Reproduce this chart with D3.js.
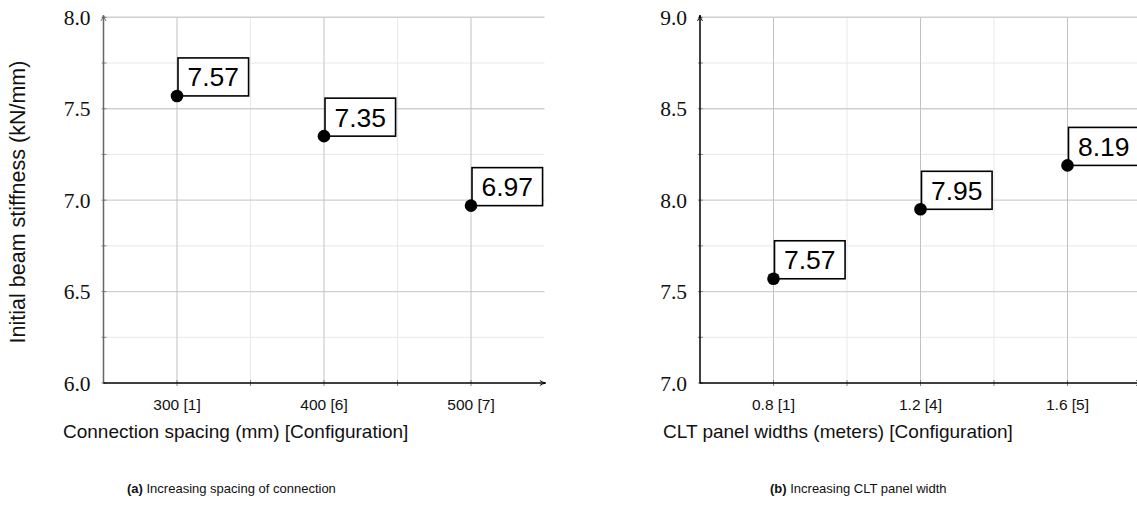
<!DOCTYPE html>
<html>
<head>
<meta charset="utf-8">
<script src="https://cdn.jsdelivr.net/npm/d3@7"></script>
<style>
  html, body { margin: 0; padding: 0; background: #fff; }
  svg { display: block; }
</style>
</head>
<body>
<svg id="chart" width="1137" height="515"></svg>
<script>
// ---- Data ----
const leftCategories = ["300 [1]", "400 [6]", "500 [7]"];
const leftX = [300, 400, 500];
const leftValues = [7.57, 7.35, 6.97];
const leftYTicks = [6.0, 6.5, 7.0, 7.5, 8.0];
const leftXTitle = "Connection spacing (mm) [Configuration]";
const leftCaptionBold = "(a)";
const leftCaption = " Increasing spacing of connection";

const rightCategories = ["0.8 [1]", "1.2 [4]", "1.6 [5]"];
const rightX = [0.8, 1.2, 1.6];
const rightValues = [7.57, 7.95, 8.19];
const rightYTicks = [7.0, 7.5, 8.0, 8.5, 9.0];
const rightXTitle = "CLT panel widths (meters) [Configuration]";
const rightCaptionBold = "(b)";
const rightCaption = " Increasing CLT panel width";

const yTitle = "Initial beam stiffness (kN/mm)";

const SERIF = "'Liberation Serif', serif";
const SANS = "'Liberation Sans', Arial, sans-serif";

const svg = d3.select("#chart");

const defs = svg.append("defs");
function marker(id, color) {
  defs.append("marker")
    .attr("id", id).attr("viewBox", "0 0 10 10")
    .attr("refX", 9).attr("refY", 5)
    .attr("markerWidth", 7).attr("markerHeight", 7)
    .attr("markerUnits", "userSpaceOnUse")
    .attr("orient", "auto")
    .append("path")
    .attr("d", "M1,1.5 Q5,4.2 9,5 Q5,5.8 1,8.5")
    .attr("fill", "none").attr("stroke", color).attr("stroke-width", 1.4);
}
marker("arrowBlack", "#000");
marker("arrowGray", "#666");

function panel(cfg) {
  const g = svg.append("g");
  const x = d3.scaleLinear().domain(cfg.xDomain).range([cfg.left, cfg.left + 441]);
  const y = d3.scaleLinear().domain(cfg.yDomain).range([383, 17.3]);
  const xEnd = x(cfg.xDomain[1]);
  const top = y(cfg.yDomain[1]);

  // minor grid
  const yMinor = d3.range(cfg.yDomain[0] + 0.25, cfg.yDomain[1], 0.5);
  g.append("g").selectAll("line").data(yMinor).join("line")
    .attr("x1", cfg.left).attr("x2", xEnd)
    .attr("y1", d => y(d)).attr("y2", d => y(d))
    .attr("stroke", "#e8e8e8").attr("stroke-width", 1);
  g.append("g").selectAll("line").data(cfg.xMinor).join("line")
    .attr("x1", d => x(d)).attr("x2", d => x(d))
    .attr("y1", y(cfg.yDomain[0])).attr("y2", top)
    .attr("stroke", "#e8e8e8").attr("stroke-width", 1);

  // major grid
  g.append("g").selectAll("line").data(cfg.yTicks.slice(1)).join("line")
    .attr("x1", cfg.left).attr("x2", xEnd)
    .attr("y1", d => y(d)).attr("y2", d => y(d))
    .attr("stroke", "#cfcfcf").attr("stroke-width", 1.4);
  g.append("g").selectAll("line").data(cfg.xVals).join("line")
    .attr("x1", d => x(d)).attr("x2", d => x(d))
    .attr("y1", y(cfg.yDomain[0])).attr("y2", top)
    .attr("stroke", "#c2c2c2").attr("stroke-width", 1);

  // y axis ticks (small)
  const yAll = cfg.yTicks.concat(yMinor);
  g.append("g").selectAll("line").data(yAll).join("line")
    .attr("x1", cfg.left - 2).attr("x2", cfg.left + 3)
    .attr("y1", d => y(d)).attr("y2", d => y(d))
    .attr("stroke", "#888").attr("stroke-width", 1);
  // x axis ticks
  const xAll = cfg.xVals.concat(cfg.xMinor);
  g.append("g").selectAll("line").data(xAll).join("line")
    .attr("x1", d => x(d)).attr("x2", d => x(d))
    .attr("y1", 380).attr("y2", 386)
    .attr("stroke", "#888").attr("stroke-width", 1);

  // axes lines with arrows
  g.append("line")
    .attr("x1", cfg.left).attr("x2", cfg.left)
    .attr("y1", 383.5).attr("y2", top - 2)
    .attr("stroke", cfg.yAxisColor).attr("stroke-width", 1.5)
    .attr("marker-end", cfg.yAxisColor === "#000" ? "url(#arrowBlack)" : "url(#arrowGray)");
  g.append("line")
    .attr("x1", cfg.left).attr("x2", xEnd + 1)
    .attr("y1", y(cfg.yDomain[0])).attr("y2", y(cfg.yDomain[0]))
    .attr("stroke", "#000").attr("stroke-width", 1.5)
    .attr("marker-end", "url(#arrowBlack)");

  // y tick labels
  g.append("g").selectAll("text").data(cfg.yTicks).join("text")
    .style("font-family", SERIF).style("font-size", "21.5px")
    .attr("x", cfg.left - 13).attr("y", d => y(d) + 7.5)
    .attr("text-anchor", "end")
    .attr("fill", "#111")
    .text(d => d3.format(".1f")(d));

  // x tick labels
  g.append("g").selectAll("text").data(cfg.xVals).join("text")
    .style("font-family", SANS).style("font-size", "15.5px")
    .attr("x", d => x(d)).attr("y", 409.5)
    .attr("text-anchor", "middle")
    .attr("fill", "#111")
    .text((d, i) => cfg.categories[i]);

  // points and labels
  const pts = g.append("g");
  cfg.xVals.forEach((xv, i) => {
    const px = x(xv), py = y(cfg.values[i]);
    const lbl = pts.append("g");
    const t = lbl.append("text")
      .style("font-family", SANS).style("font-size", "26.5px")
      .attr("text-anchor", "middle")
      .text(d3.format(".2f")(cfg.values[i]));
    const w = t.node().getComputedTextLength() + 19;
    const h = 38;
    lbl.insert("rect", "text")
      .attr("x", px + 1).attr("y", py - h)
      .attr("width", w).attr("height", h)
      .attr("fill", "#fff").attr("stroke", "#000").attr("stroke-width", 1.6);
    t.attr("x", px + 1 + w / 2).attr("y", py - h / 2 + 9.5);
    pts.append("circle").attr("cx", px).attr("cy", py).attr("r", 6.3).attr("fill", "#000");
  });

  // x title
  g.append("text")
    .style("font-family", SANS).style("font-size", "19px")
    .attr("x", cfg.titleX).attr("y", 438)
    .attr("fill", "#111")
    .text(cfg.xTitle);

  // caption
  const cap = g.append("text")
    .style("font-family", SANS).style("font-size", "13px")
    .attr("x", cfg.captionX).attr("y", 493)
    .attr("fill", "#111");
  cap.append("tspan").attr("font-weight", "bold").text(cfg.captionBold);
  cap.append("tspan").text(cfg.caption);
}

panel({
  left: 103.5, xDomain: [250, 550], yDomain: [6, 8],
  xVals: leftX, xMinor: [350, 450], values: leftValues, categories: leftCategories,
  yTicks: leftYTicks, xTitle: leftXTitle, titleX: 63,
  captionBold: leftCaptionBold, caption: leftCaption, captionX: 127,
  yAxisColor: "#666"
});
panel({
  left: 700, xDomain: [0.6, 1.8], yDomain: [7, 9],
  xVals: rightX, xMinor: [1.0, 1.4], values: rightValues, categories: rightCategories,
  yTicks: rightYTicks, xTitle: rightXTitle, titleX: 663,
  captionBold: rightCaptionBold, caption: rightCaption, captionX: 770,
  yAxisColor: "#000"
});

// y title (left only)
svg.append("text")
  .style("font-family", SANS).style("font-size", "21.5px")
  .attr("transform", "translate(25,202) rotate(-90)")
  .attr("text-anchor", "middle")
  .attr("fill", "#111")
  .text(yTitle);
</script>
</body>
</html>
